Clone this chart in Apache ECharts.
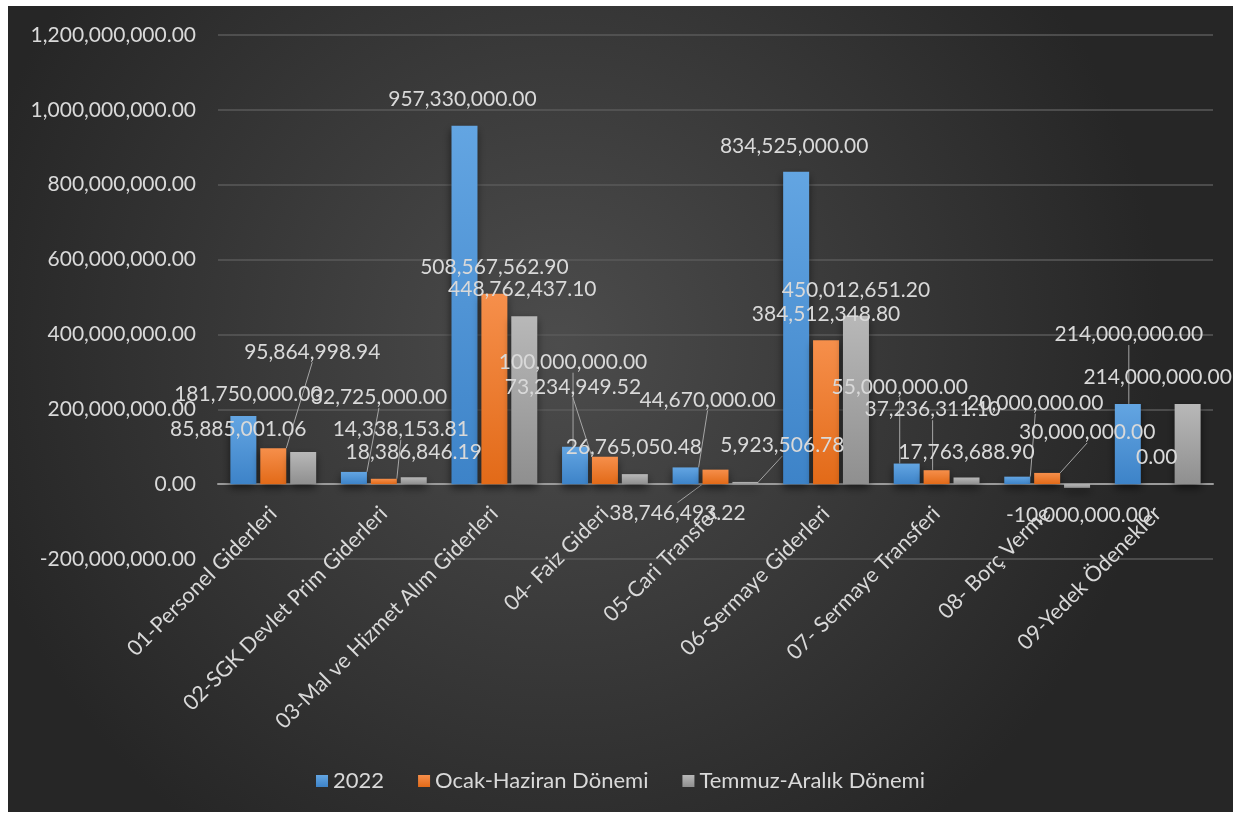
<!DOCTYPE html>
<html>
<head>
<meta charset="utf-8">
<script src="https://cdn.jsdelivr.net/npm/echarts@6/dist/echarts.min.js"></script>
<style>
  html, body { margin: 0; padding: 0; background: #fff; }
  #chart { position: absolute; left: 8px; top: 6px; width: 1225px; height: 806px; }
</style>
</head>
<body>
<div id="chart"></div>
<script>
// kategori isimleri
var categories = [
  '01-Personel Giderleri',
  '02-SGK Devlet Prim Giderleri',
  '03-Mal ve Hizmet Alım Giderleri',
  '04- Faiz Gideri',
  '05-Cari Transfer',
  '06-Sermaye Giderleri',
  '07- Sermaye Transferi',
  '08- Borç Verme',
  '09-Yedek Ödenekler'
]
var seriesNames = ['2022', 'Ocak-Haziran Dönemi', 'Temmuz-Aralık Dönemi']
var data2022 = [181750000.00, 32725000.00, 957330000.00, 100000000.00, 44670000.00, 834525000.00, 55000000.00, 20000000.00, 214000000.00]
var ocakHaziran = [95864998.94, 14338153.81, 508567562.90, 73234949.52, 38746493.22, 384512348.80, 37236311.10, 30000000.00, 0.00]
var temmuzAralik = [85885001.06, 18386846.19, 448762437.10, 26765050.48, 5923506.78, 450012651.20, 17763688.90, -10000000.00, 214000000.00]
var yTicks = [-200000000, 0, 200000000, 400000000, 600000000, 800000000, 1000000000, 1200000000]

// etiket kaydirmalari [dx, dy, cizgi]
var labelOffsets = [
  [[5, -6, 0], [25, -59, 1], [-2, -11, 0], [-2, -69, 1], [22, -52, 1], [-2, -10, 0], [-7, -61, 1], [18, -58, 1], [1, -54, 1]],
  [[39, -81, 1], [17, -34, 1], [0, -11, 0], [-32, -54, 1], [-38, 59, 1], [0, -10, 0], [-4, -45, 1], [40, -25, 1], [-1, -11, 0]],
  [[-65, -7, 0], [0, -10, 0], [-2, -11, 0], [-1, -11, 0], [37, -21, 1], [0, -10, 0], [0, -10, 0], [1, 12, 0], [-30, -11, 0]]
]

var fmt = new Intl.NumberFormat('en-US', { minimumFractionDigits: 2, maximumFractionDigits: 2 })
var FONT = 'Lato'
var TXT = '#d9d9d9'

var colors = [
  ['#63a5e2', '#3d83c8'],
  ['#f68f4b', '#e26a18'],
  ['#b8b8b8', '#8f8f8f']
]

function buildSeries(idx, values) {
  return {
    name: seriesNames[idx],
    type: 'bar',
    barWidth: 26,
    barGap: '15%',
    itemStyle: {
      color: new echarts.graphic.LinearGradient(0, 0, 0, 1, [
        { offset: 0, color: colors[idx][0] },
        { offset: 1, color: colors[idx][1] }
      ]),
      shadowBlur: 8,
      shadowColor: 'rgba(0,0,0,0.55)',
      shadowOffsetY: 4
    },
    label: {
      show: true,
      position: 'top',
      distance: 5,
      color: TXT,
      fontFamily: FONT,
      fontSize: 21,
      formatter: function (p) { return fmt.format(p.value) }
    },
    labelLine: {
      show: false,
      lineStyle: { color: '#a6a6a6', width: 1 }
    },
    labelLayout: function (p) {
      var o = labelOffsets[p.seriesIndex][p.dataIndex]
      return { dx: o[0], dy: o[1] }
    },
    data: values.map(function (v, i) {
      var o = labelOffsets[idx][i]
      var item = { value: v }
      if (o[2]) item.labelLine = { show: true }
      if (v < 0) item.label = { position: 'bottom' }
      return item
    })
  }
}

var chart = echarts.init(document.getElementById('chart'))
chart.setOption({
  animation: false,
  backgroundColor: new echarts.graphic.RadialGradient(0.45, 0.42, 0.75, [
    { offset: 0, color: '#4c4c4c' },
    { offset: 1, color: '#262626' }
  ]),
  textStyle: { fontFamily: FONT },
  grid: {
    left: 210,
    right: 20,
    top: 29,
    bottom: 253
  },
  legend: {
    bottom: 15,
    itemWidth: 12,
    itemHeight: 12,
    itemGap: 34,
    icon: 'rect',
    textStyle: { color: TXT, fontSize: 22, fontFamily: FONT },
    data: seriesNames
  },
  xAxis: {
    type: 'category',
    data: categories,
    // eksen sifir cizgisinde, etiketler de orada
    offset: -74.86,
    axisLine: { lineStyle: { color: '#9a9a9a', width: 2 }, onZero: false },
    axisTick: { show: false },
    axisLabel: {
      rotate: 45,
      interval: 0,
      margin: 26,
      color: TXT,
      fontFamily: FONT,
      fontSize: 21.5
    }
  },
  yAxis: {
    type: 'value',
    min: yTicks[0],
    max: yTicks[yTicks.length - 1],
    interval: yTicks[1] - yTicks[0],
    axisLine: { show: false },
    axisTick: { show: false },
    splitLine: { lineStyle: { color: '#5a5a5a', width: 1.5 } },
    axisLabel: {
      margin: 22,
      color: TXT,
      fontFamily: FONT,
      fontSize: 21,
      formatter: function (v) { return fmt.format(v) }
    }
  },
  series: [
    buildSeries(0, data2022),
    buildSeries(1, ocakHaziran),
    buildSeries(2, temmuzAralik)
  ]
})
</script>
</body>
</html>
